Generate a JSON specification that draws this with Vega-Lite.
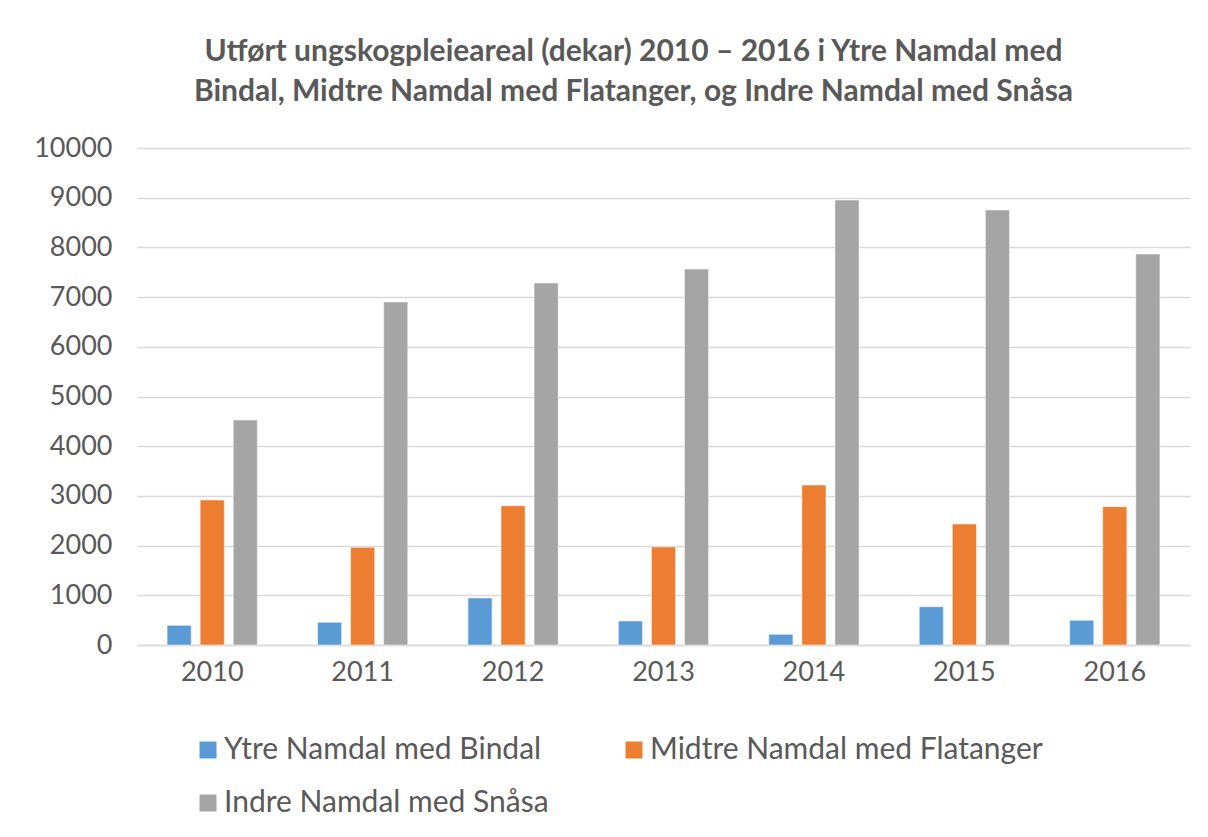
{
  "$schema": "https://vega.github.io/schema/vega-lite/v6.json",
  "width": 1053,
  "height": 497,
  "autosize": {"type": "none"},
  "padding": {"left": 137, "top": 148, "right": 18, "bottom": 192},
  "background": "white",
  "title": {
    "text": ["Utført ungskogpleieareal (dekar) 2010 – 2016 i Ytre Namdal med", "Bindal, Midtre Namdal med Flatanger, og Indre Namdal med Snåsa"],
    "font": "Lato",
    "fontSize": 30,
    "fontWeight": "bold",
    "color": "#595959",
    "lineHeight": 40,
    "anchor": "middle",
    "dx": -30,
    "offset": 27
  },
  "data": {
    "values": [
      {"year": "2010", "region": "Ytre Namdal med Bindal", "value": 396},
      {"year": "2010", "region": "Midtre Namdal med Flatanger", "value": 2918},
      {"year": "2010", "region": "Indre Namdal med Snåsa", "value": 4527},
      {"year": "2011", "region": "Ytre Namdal med Bindal", "value": 457},
      {"year": "2011", "region": "Midtre Namdal med Flatanger", "value": 1966},
      {"year": "2011", "region": "Indre Namdal med Snåsa", "value": 6901},
      {"year": "2012", "region": "Ytre Namdal med Bindal", "value": 946},
      {"year": "2012", "region": "Midtre Namdal med Flatanger", "value": 2803},
      {"year": "2012", "region": "Indre Namdal med Snåsa", "value": 7284},
      {"year": "2013", "region": "Ytre Namdal med Bindal", "value": 483},
      {"year": "2013", "region": "Midtre Namdal med Flatanger", "value": 1972},
      {"year": "2013", "region": "Indre Namdal med Snåsa", "value": 7565},
      {"year": "2014", "region": "Ytre Namdal med Bindal", "value": 215},
      {"year": "2014", "region": "Midtre Namdal med Flatanger", "value": 3219},
      {"year": "2014", "region": "Indre Namdal med Snåsa", "value": 8954},
      {"year": "2015", "region": "Ytre Namdal med Bindal", "value": 771},
      {"year": "2015", "region": "Midtre Namdal med Flatanger", "value": 2435},
      {"year": "2015", "region": "Indre Namdal med Snåsa", "value": 8753},
      {"year": "2016", "region": "Ytre Namdal med Bindal", "value": 497},
      {"year": "2016", "region": "Midtre Namdal med Flatanger", "value": 2783},
      {"year": "2016", "region": "Indre Namdal med Snåsa", "value": 7867}
    ]
  },
  "mark": {"type": "bar", "stroke": "white", "strokeWidth": 0.5},
  "encoding": {
    "x": {
      "field": "year",
      "type": "nominal",
      "scale": {"paddingInner": 0.4, "paddingOuter": 0.2},
      "axis": {
        "title": null,
        "labelAngle": 0,
        "labelFont": "Lato",
        "labelFontSize": 27,
        "labelColor": "#595959",
        "labelPadding": 14,
        "ticks": false,
        "domain": true,
        "domainColor": "#d9d9d9",
        "domainWidth": 1.5
      }
    },
    "xOffset": {
      "field": "region",
      "type": "nominal",
      "sort": ["Ytre Namdal med Bindal", "Midtre Namdal med Flatanger", "Indre Namdal med Snåsa"],
      "scale": {"paddingInner": 0.27}
    },
    "y": {
      "field": "value",
      "type": "quantitative",
      "scale": {"domain": [0, 10000]},
      "axis": {
        "title": null,
        "values": [0, 1000, 2000, 3000, 4000, 5000, 6000, 7000, 8000, 9000, 10000],
        "format": "d",
        "labelFont": "Lato",
        "labelFontSize": 27,
        "labelColor": "#595959",
        "labelPadding": 25,
        "ticks": false,
        "domain": false,
        "grid": true,
        "gridColor": "#d9d9d9",
        "gridWidth": 1.5
      }
    },
    "color": {
      "field": "region",
      "type": "nominal",
      "sort": ["Ytre Namdal med Bindal", "Midtre Namdal med Flatanger", "Indre Namdal med Snåsa"],
      "scale": {
        "domain": ["Ytre Namdal med Bindal", "Midtre Namdal med Flatanger", "Indre Namdal med Snåsa"],
        "range": ["#5B9BD5", "#ED7D31", "#A5A5A5"]
      },
      "legend": {
        "title": null,
        "orient": "none",
        "direction": "horizontal",
        "legendX": 56,
        "legendY": 587,
        "columns": 2,
        "columnPadding": 70,
        "rowPadding": 23,
        "symbolType": "square",
        "symbolSize": 289,
        "symbolStrokeWidth": 0,
        "labelFont": "Lato",
        "labelFontSize": 30,
        "labelColor": "#595959",
        "labelOffset": 1,
        "labelLimit": 500
      }
    }
  },
  "config": {
    "view": {"stroke": null}
  }
}
